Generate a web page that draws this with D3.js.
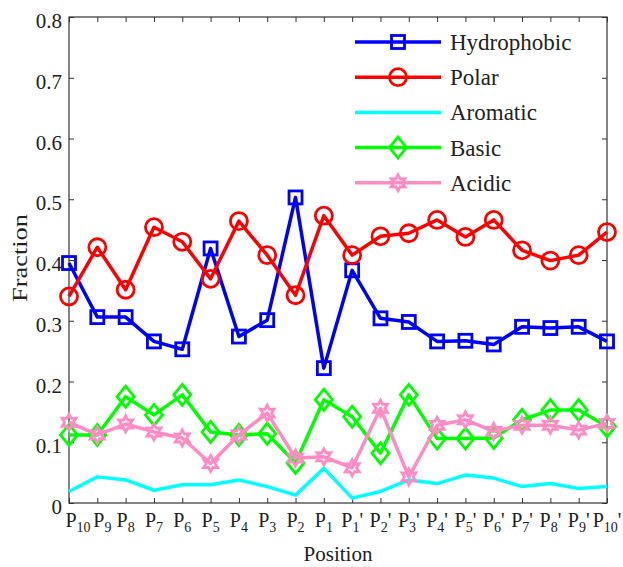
<!DOCTYPE html>
<html>
<head>
<meta charset="utf-8">
<script src="https://cdn.jsdelivr.net/npm/d3@7"></script>
<style>
  body { margin: 0; background: #fff; }
  svg text { font-family: "Liberation Serif", "Times New Roman", serif; fill: #222; }
</style>
</head>
<body>
<div id="paper"></div>
<script>
// positions P10 ... P1, P1' ... P10'
const positions = ["10","9","8","7","6","5","4","3","2","1","1'","2'","3'","4'","5'","6'","7'","8'","9'","10'"]

const hydrophobic = [0.395,0.306,0.306,0.266,0.253,0.419,0.274,0.301,0.503,0.222,0.383,0.304,0.298,0.266,0.267,0.261,0.290,0.288,0.290,0.266]
const polar       = [0.340,0.421,0.351,0.454,0.430,0.369,0.464,0.408,0.342,0.473,0.408,0.439,0.444,0.466,0.438,0.466,0.416,0.399,0.408,0.446]
const aromatic    = [0.019,0.043,0.038,0.021,0.030,0.030,0.038,0.027,0.013,0.057,0.008,0.019,0.038,0.032,0.046,0.041,0.027,0.032,0.024,0.027]
const basic       = [0.112,0.112,0.175,0.145,0.178,0.117,0.112,0.114,0.066,0.170,0.142,0.082,0.178,0.106,0.106,0.107,0.137,0.153,0.153,0.126]
const acidic      = [0.133,0.112,0.130,0.117,0.107,0.065,0.112,0.148,0.074,0.076,0.058,0.156,0.043,0.128,0.137,0.118,0.128,0.128,0.120,0.131]

const yTicks = [0, 0.1, 0.2, 0.3, 0.4, 0.5, 0.6, 0.7, 0.8]

const series = [
  {name: "Hydrophobic", values: hydrophobic, color: "#0000ff", marker: "square"},
  {name: "Polar",       values: polar,       color: "#ff0000", marker: "circle"},
  {name: "Aromatic",    values: aromatic,    color: "#00ffff", marker: "none"},
  {name: "Basic",       values: basic,       color: "#00ff00", marker: "diamond"},
  {name: "Acidic",      values: acidic,      color: "#ff8cc4", marker: "star"}
]

const W = 623, H = 567
const pLeft = 69, pRight = 607, pTop = 17, pBottom = 503

const svg = d3.select("#paper")
  .append("svg")
  .attr("width", W)
  .attr("height", H)

const x = d3.scaleLinear().domain([0, positions.length - 1]).range([pLeft, pRight])
const y = d3.scaleLinear().domain([0, 0.8]).range([pBottom, pTop])

// frame
svg.append("rect")
  .attr("x", pLeft).attr("y", pTop)
  .attr("width", pRight - pLeft).attr("height", pBottom - pTop)
  .attr("fill", "none").attr("stroke", "#333").attr("stroke-width", 1.2)

// axes with inward ticks
const idx = d3.range(positions.length)

svg.append("g")
  .attr("transform", `translate(0,${pBottom})`)
  .call(d3.axisBottom(x).tickValues(idx).tickSize(-5).tickFormat(""))
  .call(g => g.select(".domain").remove())
  .selectAll("line").attr("stroke", "#333")

svg.append("g")
  .attr("transform", `translate(0,${pTop})`)
  .call(d3.axisTop(x).tickValues(idx).tickSize(-5).tickFormat(""))
  .call(g => g.select(".domain").remove())
  .selectAll("line").attr("stroke", "#333")

svg.append("g")
  .attr("transform", `translate(${pLeft},0)`)
  .call(d3.axisLeft(y).tickValues(yTicks).tickSize(-5).tickPadding(7).tickFormat(d => d === 0 ? "0" : d3.format(".1f")(d)))
  .call(g => g.select(".domain").remove())
  .call(g => g.selectAll("line").attr("stroke", "#333"))
  .call(g => g.selectAll("text")
    .attr("font-family", null).attr("dy", "0.5em")
    .style("font-size", "21px").attr("fill", "#222"))

svg.append("g")
  .attr("transform", `translate(${pRight},0)`)
  .call(d3.axisRight(y).tickValues(yTicks).tickSize(-5).tickFormat(""))
  .call(g => g.select(".domain").remove())
  .selectAll("line").attr("stroke", "#333")

// x tick labels with subscripts (first two nudged right as in the original)
const labelShift = [9, 5]
const xl = svg.append("g")
  .selectAll("text")
  .data(positions)
  .join("text")
  .attr("x", (d, i) => x(i) + (labelShift[i] || 0))
  .attr("y", 527)
  .attr("text-anchor", "middle")
  .style("font-size", "20px")

xl.append("tspan").text("P")
xl.append("tspan")
  .attr("dy", 5)
  .style("font-size", "14px")
  .text(d => d.replace("'", ""))
xl.filter(d => d.includes("'")).append("tspan")
  .attr("dy", -5)
  .text("'")

// axis titles
svg.append("text")
  .attr("x", 338).attr("y", 561)
  .attr("text-anchor", "middle")
  .style("font-size", "21px")
  .text("Position")

svg.append("text")
  .attr("transform", "translate(27,258) rotate(-90) scale(1.2,1)")
  .attr("text-anchor", "middle")
  .style("font-size", "22px")
  .text("Fraction")

// markers
function starPath(r) {
  const pts = []
  for (let k = 0; k < 12; k++) {
    const a = Math.PI / 6 * k - Math.PI / 2
    const rr = k % 2 === 0 ? r : r * 0.55
    pts.push([rr * Math.cos(a), rr * Math.sin(a)])
  }
  return "M" + pts.map(p => p.join(",")).join("L") + "Z"
}

function drawMarker(g, type, color) {
  if (type === "square") {
    g.append("rect").attr("x", -6.5).attr("y", -6.5).attr("width", 13).attr("height", 13)
      .attr("fill", "none").attr("stroke", color).attr("stroke-width", 2.8)
  } else if (type === "circle") {
    g.append("circle").attr("r", 8.5)
      .attr("fill", "none").attr("stroke", color).attr("stroke-width", 2.8)
  } else if (type === "diamond") {
    g.append("path").attr("d", "M0,-10.5L8.5,0L0,10.5L-8.5,0Z")
      .attr("fill", "none").attr("stroke", color).attr("stroke-width", 2.8)
  } else if (type === "star") {
    g.append("path").attr("d", starPath(8))
      .attr("fill", "none").attr("stroke", color).attr("stroke-width", 2.8)
  }
}

const line = d3.line().x((d, i) => x(i)).y(d => y(d))

series.forEach(s => {
  svg.append("path")
    .attr("d", line(s.values))
    .attr("fill", "none")
    .attr("stroke", s.color)
    .attr("stroke-width", 3.5)
    .attr("stroke-linejoin", "round")

  s.values.forEach((v, i) => {
    const g = svg.append("g").attr("transform", `translate(${x(i)},${y(v)})`)
    drawMarker(g, s.marker, s.color)
  })
})

// legend
series.forEach((s, i) => {
  const ly = 42 + i * 35.2
  svg.append("line")
    .attr("x1", 355).attr("x2", 441).attr("y1", ly).attr("y2", ly)
    .attr("stroke", s.color).attr("stroke-width", 3.5)
  const g = svg.append("g").attr("transform", `translate(398,${ly})`)
  drawMarker(g, s.marker, s.color)
  svg.append("text")
    .attr("x", 450).attr("y", ly + 8)
    .style("font-size", "23px")
    .text(s.name)
})
</script>
</body>
</html>
